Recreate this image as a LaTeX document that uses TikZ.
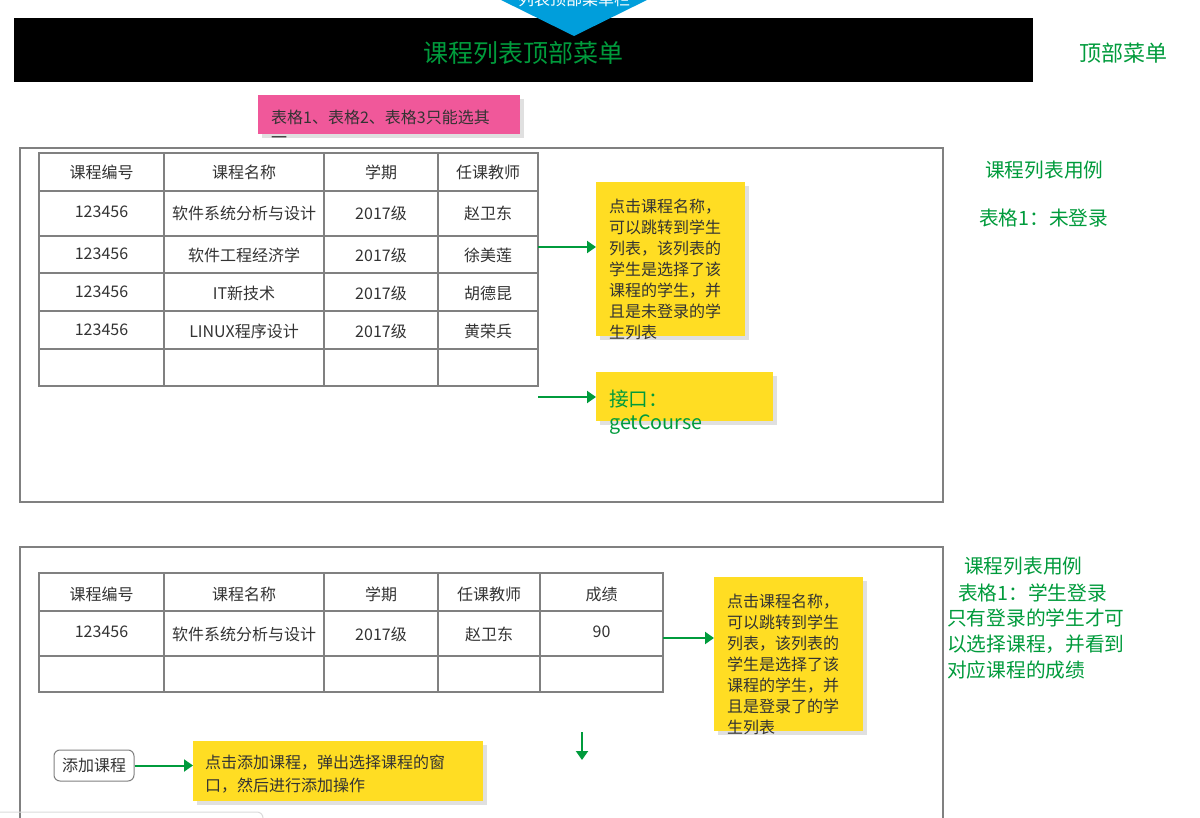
\documentclass[tikz,border=0pt]{standalone}
\usepackage{fontspec}
\setmainfont{Noto Sans CJK SC}
\usetikzlibrary{arrows.meta}
\definecolor{grn}{RGB}{0,155,60}
\definecolor{yel}{RGB}{255,221,35}
\definecolor{pnk}{RGB}{240,88,154}
\definecolor{blu}{RGB}{0,158,219}
\definecolor{frm}{RGB}{128,128,128}
\definecolor{txt}{RGB}{51,51,51}
\tikzset{
  frame/.style={draw=frm, line width=1.2pt},
  tbl/.style={draw=frm, line width=1.3pt},
  cell/.style={text=txt, font=\fontsize{16}{20}\selectfont, inner sep=0pt},
  notebox/.style={fill=yel, inner sep=0pt, anchor=north west},
  pinkbox/.style={fill=pnk, inner sep=0pt, anchor=north west},
  notetext/.style={text=txt, font=\fontsize{16}{21}\selectfont, inner sep=0pt, anchor=north west, align=left},
  sidelabel/.style={text=grn, font=\fontsize{19.7}{24}\selectfont, inner sep=0pt, anchor=west},
  arr/.style={draw=grn, line width=2pt, -{Triangle[length=9pt,width=12pt]}},
  shad/.style={fill=black, opacity=0.12},
  btn/.style={draw=frm, line width=1pt, rounded corners=6pt, fill=white, text=txt, font=\fontsize{16}{20}\selectfont, minimum width=80pt, minimum height=31pt, inner sep=0pt}
}
\begin{document}
\begin{tikzpicture}[x=1pt,y=-1pt]
\useasboundingbox (0,0) rectangle (1200,818);
\clip (0,0) rectangle (1200,818);
\fill[white] (0,0) rectangle (1200,818);

% top black bar
\node[fill=black, minimum width=1019pt, minimum height=64pt, inner sep=0pt] (bar) at (523.5,50) {};
\node[text=grn, font=\fontsize{25}{30}\selectfont, inner sep=0pt] (title) at (523,53) {课程列表顶部菜单};
% blue off-page shape
\fill[blu] (495,-3) -- (653,-3) -- (574,36) -- cycle;
\node[text=white, font=\fontsize{16}{20}\selectfont, inner sep=0pt] (bluetext) at (574,-1) {列表顶部菜单栏};

\node[text=grn, font=\fontsize{22}{26}\selectfont, inner sep=0pt, anchor=west] (toplabel) at (1079,53) {顶部菜单};

% pink note
\fill[shad] (262,99) rectangle (524,138);
\node[pinkbox, minimum width=262pt, minimum height=39pt] (pink) at (258,95) {};
\node[text=txt, font=\fontsize{16}{20}\selectfont, inner sep=0pt, anchor=north west, align=left] (pinktext) at (271,110) {表格1、表格2、表格3只能选其\\一};

% frame 1
\draw[frame] (20,148) rectangle (943,502);
% table 1
\draw[tbl] (39,153) rectangle (538,386);
\foreach \y in {191,236,273,311,349} \draw[tbl] (39,\y) -- (538,\y);
\foreach \x in {164,324,438} \draw[tbl] (\x,153) -- (\x,386);
\node[cell] (ah1) at (101.5,172) {课程编号};
\node[cell] (ah2) at (244,172) {课程名称};
\node[cell] (ah3) at (381,172) {学期};
\node[cell] (ah4) at (488,172) {任课教师};
\node[cell] (a11) at (101.5,212) {123456};
\node[cell] (a12) at (244,213.5) {软件系统分析与设计};
\node[cell] (a13) at (381,213.5) {2017级};
\node[cell] (a14) at (488,213.5) {赵卫东};
\node[cell] (a21) at (101.5,254) {123456};
\node[cell] (a22) at (244,255) {软件工程经济学};
\node[cell] (a23) at (381,255) {2017级};
\node[cell] (a24) at (488,255) {徐美莲};
\node[cell] (a31) at (101.5,291.5) {123456};
\node[cell] (a32) at (244,293) {IT新技术};
\node[cell] (a33) at (381,293) {2017级};
\node[cell] (a34) at (488,293) {胡德昆};
\node[cell] (a41) at (101.5,329.5) {123456};
\node[cell] (a42) at (244,331) {LINUX程序设计};
\node[cell] (a43) at (381,331) {2017级};
\node[cell] (a44) at (488,331) {黄荣兵};

% note 1
\fill[shad] (600,186) rectangle (749,340);
\node[notebox, minimum width=149pt, minimum height=154pt] (n1) at (596,182) {};
\node[notetext] (n1t) at (609,199) {点击课程名称，\\可以跳转到学生\\列表，该列表的\\学生是选择了该\\课程的学生，并\\且是未登录的学\\生列表};
% note 2
\fill[shad] (600,376) rectangle (777,425);
\node[notebox, minimum width=177pt, minimum height=49pt] (n2) at (596,372) {};
\node[notetext, text=grn, font=\fontsize{19.7}{23}\selectfont] (n2t) at (609,390) {接口：\\getCourse};

\coordinate (a1s) at (538,247);
\coordinate (a2s) at (538,397);
\draw[arr] (a1s) -- (a1s -| n1.west);
\draw[arr] (a2s) -- (a2s -| n2.west);

\node[sidelabel] (s1) at (985,170) {课程列表用例};
\node[sidelabel] (s2) at (979,218) {表格1：未登录};

% frame 2
\draw[frame] (20,547) rectangle (943,840);
% table 2
\draw[tbl] (39,573) rectangle (663,692);
\foreach \y in {611,656} \draw[tbl] (39,\y) -- (663,\y);
\foreach \x in {164,324,438,540} \draw[tbl] (\x,573) -- (\x,692);
\node[cell] (bh1) at (101.5,594) {课程编号};
\node[cell] (bh2) at (244,594) {课程名称};
\node[cell] (bh3) at (381,594) {学期};
\node[cell] (bh4) at (489,594) {任课教师};
\node[cell] (bh5) at (601.5,594) {成绩};
\node[cell] (b11) at (101.5,632) {123456};
\node[cell] (b12) at (244,634) {软件系统分析与设计};
\node[cell] (b13) at (381,634) {2017级};
\node[cell] (b14) at (489,634) {赵卫东};
\node[cell] (b15) at (601.5,632) {90};

% note 3
\fill[shad] (718,581) rectangle (867,735);
\node[notebox, minimum width=149pt, minimum height=154pt] (n3) at (714,577) {};
\node[notetext] (n3t) at (727,594) {点击课程名称，\\可以跳转到学生\\列表，该列表的\\学生是选择了该\\课程的学生，并\\且是登录了的学\\生列表};
\coordinate (a3s) at (663,638);
\draw[arr] (a3s) -- (a3s -| n3.west);

% down arrow
\coordinate (d1) at (582,732);
\coordinate (d2) at (582,760);
\draw[arr] (d1) -- (d2);

% button and note 4
\node[btn] (btn) at (94,765.5) {添加课程};
\fill[shad] (197,745) rectangle (487,805);
\node[notebox, minimum width=290pt, minimum height=60pt] (n4) at (193,741) {};
\node[notetext, font=\fontsize{16}{23}\selectfont] (n4t) at (205,755) {点击添加课程，弹出选择课程的窗\\口，然后进行添加操作};
\draw[arr] (btn.east) -- (btn.east -| n4.west);

\node[sidelabel] (s3) at (964,566) {课程列表用例};
\node[sidelabel] (s4) at (958,593) {表格1：学生登录};
\node[sidelabel] (s5) at (947,618) {只有登录的学生才可};
\node[sidelabel] (s6) at (947,644) {以选择课程，并看到};
\node[sidelabel] (s7) at (947,670) {对应课程的成绩};

% faint panel edge bottom-left
\draw[black!14, line width=1pt, rounded corners=6pt] (-10,812) rectangle (263,840);
\end{tikzpicture}
\end{document}
